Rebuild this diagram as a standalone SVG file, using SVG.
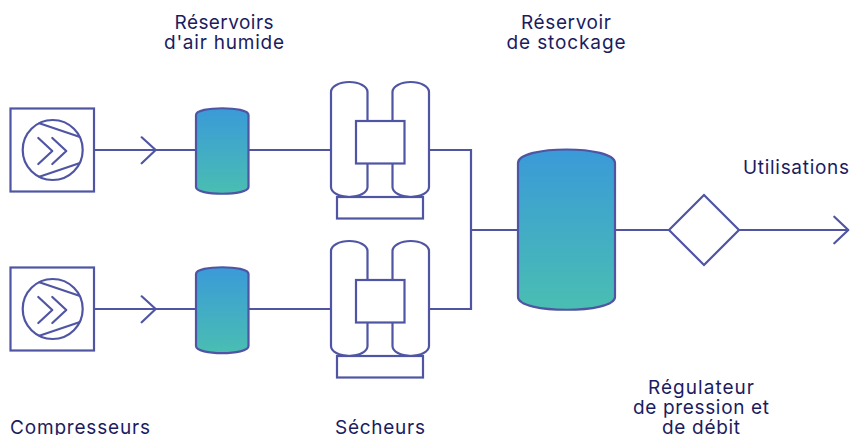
<svg xmlns="http://www.w3.org/2000/svg" width="852" height="435" viewBox="0 0 852 435">
<style>
.l{fill:none;stroke:#4f55a3;stroke-width:2.200;stroke-linejoin:miter}
.t{fill:none;stroke:#4f55a3;stroke-width:2.200;stroke-linecap:round;stroke-linejoin:round}
.w{fill:#fff;stroke:#4f55a3;stroke-width:2.200}
.g{fill:url(#grad);stroke:#4f55a3;stroke-width:2.200}
text{font-family:"Inter","Liberation Sans",sans-serif;font-size:19px;fill:#1b1c5f;text-anchor:middle}
</style>
<defs>
<linearGradient id="grad" x1="0" y1="0" x2="0" y2="1"><stop offset="0" stop-color="#3a9ad8"/><stop offset="1" stop-color="#4abeb2"/></linearGradient>
</defs>
<rect width="852" height="435" fill="#fff"/>
<g id="connectors">
<path class="l" d="M94 150H196M248.500 150H331M429 150H471V309H429M248.500 309H331M94 309H196M471 230H518M615 230H669M739 230H848"/>
<path class="t" d="M141.700 137.300L155.700 150L141.700 163.300M141.700 296.300L155.700 309L141.700 322.300M834.300 216.700L848.300 230L834.300 243.300"/>
</g>
<g id="compressor-1">
<rect class="l" x="10.500" y="108.500" width="83.500" height="83"/>
<circle class="t" cx="52.700" cy="150" r="30"/>
<path class="t" d="M39.300 123.300L79.300 136.700M39.300 176.700L79.300 163.300M38.300 138L52.300 151L38.300 164M52.300 138L66.300 151L52.300 164"/>
</g>
<g id="compressor-2">
<rect class="l" x="10.500" y="267.500" width="83.500" height="83"/>
<circle class="t" cx="52.700" cy="309" r="30"/>
<path class="t" d="M39.300 282.300L79.300 295.700M39.300 335.700L79.300 322.300M38.300 297L52.300 310L38.300 323M52.300 297L66.300 310L52.300 323"/>
</g>
<g id="wet-tank-1">
<path class="g" d="M196 115C196 106 248.500 106 248.500 115V187C248.500 196 196 196 196 187Z"/>
</g>
<g id="wet-tank-2">
<path class="g" d="M196 274C196 265 248.500 265 248.500 274V346C248.500 355.500 196 355.500 196 346Z"/>
</g>
<g id="dryer-1">
<rect class="l" x="337" y="197" width="86" height="21.500"/>
<path class="l" d="M331 92A18.250 10 0 0 1 367.500 92V187A18.250 10 0 0 1 331 187Z"/>
<path class="l" d="M392.500 92A18.250 10 0 0 1 429 92V187A18.250 10 0 0 1 392.500 187Z"/>
<rect class="w" x="356" y="121" width="48.500" height="42.500"/>
</g>
<g id="dryer-2">
<rect class="l" x="337" y="356" width="86" height="21.500"/>
<path class="l" d="M331 251A18.250 10 0 0 1 367.500 251V346A18.250 10 0 0 1 331 346Z"/>
<path class="l" d="M392.500 251A18.250 10 0 0 1 429 251V346A18.250 10 0 0 1 392.500 346Z"/>
<rect class="w" x="356" y="280" width="48.500" height="42.500"/>
</g>
<g id="storage-tank">
<path class="g" d="M518 163C518 145 615 145 615 163V297C615 314 518 314 518 297Z"/>
</g>
<g id="regulator">
<path class="w" d="M704 195L739 230L704 265L669 230Z"/>
</g>
<g id="labels">
<text x="224" y="29" textLength="99">Réservoirs</text>
<text x="224" y="49" textLength="120">d'air humide</text>
<text x="566" y="29" textLength="90">Réservoir</text>
<text x="566" y="49" textLength="119">de stockage</text>
<text x="796" y="174" textLength="106">Utilisations</text>
<text x="701" y="394" textLength="106">Régulateur</text>
<text x="701" y="414" textLength="136">de pression et</text>
<text x="701" y="434" textLength="78">de débit</text>
<text x="80" y="434" textLength="140">Compresseurs</text>
<text x="380" y="434" textLength="90">Sécheurs</text>
</g>
</svg>
